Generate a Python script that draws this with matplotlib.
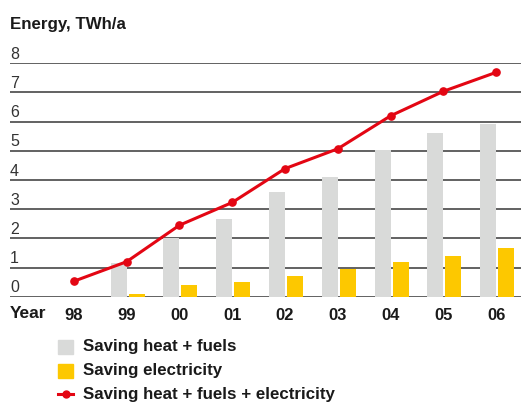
import matplotlib
matplotlib.use("Agg")
import matplotlib.pyplot as plt
import matplotlib.transforms as mtransforms
from matplotlib.patches import Rectangle
from matplotlib.lines import Line2D
import numpy as np

years = ["98", "99", "00", "01", "02", "03", "04", "05", "06"]
heat_fuels = [0.0, 1.16, 2.0, 2.67, 3.6, 4.11, 5.03, 5.62, 5.93]
electricity = [0.0, 0.09, 0.40, 0.50, 0.71, 0.96, 1.19, 1.40, 1.67]
total = [0.53, 1.20, 2.45, 3.23, 4.39, 5.07, 6.20, 7.04, 7.69]
yticks = [0, 1, 2, 3, 4, 5, 6, 7, 8]

title = "Energy, TWh/a"
xlabel = "Year"
legend_labels = ["Saving heat + fuels", "Saving electricity",
                 "Saving heat + fuels + electricity"]

GRAY = "#d9dad9"
YELLOW = "#fdc800"
RED = "#e30613"
TXT = "#1a1a1a"

plt.rcParams["font.family"] = ["Liberation Sans", "DejaVu Sans"]

W, H = 521, 403
fig = plt.figure(figsize=(W / 100, H / 100), dpi=100)
ax_left, ax_right = 10, 521
ax_top, ax_bot = 63.3, 296.7
ax = fig.add_axes([ax_left / W, (H - ax_bot) / H, (ax_right - ax_left) / W, (ax_bot - ax_top) / H])

x = np.arange(len(years))
bw = 0.303
ax.bar(x - 0.152, heat_fuels, width=bw, color=GRAY, zorder=3)
ax.bar(x + 0.19, electricity, width=bw, color=YELLOW, zorder=3)
ax.plot(x, total, color=RED, lw=2.2, marker="o", ms=5.2, zorder=4)

for yv in yticks:
    ax.axhline(yv, color="#555555", lw=1.3, zorder=1)

ax.set_xlim(-1.21, 8.47)
ax.set_ylim(0, 8)
for s in ax.spines.values():
    s.set_visible(False)
ax.set_yticks([])
ax.set_xticks(x)
ax.set_xticklabels(years, fontsize=12, color=TXT, fontweight="bold")
ax.tick_params(axis="x", length=0, pad=8)

trans = mtransforms.blended_transform_factory(ax.transAxes, ax.transData)
for yv in yticks:
    ax.text(0.0, yv + 0.05, str(yv), transform=trans, ha="left", va="bottom",
            fontsize=11.5, color="#333333")

ax.text(0.0, -0.57, xlabel, transform=trans, ha="left", va="center",
        fontsize=12.5, color=TXT, fontweight="bold")

fig.text(10 / W, 1 - 25 / H, title, ha="left", va="center", fontsize=12.2,
         fontweight="bold", color=TXT)

# legend
lx0, lx1 = 58, 73
rows = [347, 371, 394]
for i, c in enumerate([GRAY, YELLOW]):
    yc = rows[i]
    fig.patches.append(Rectangle((lx0 / W, 1 - (yc + 7) / H), (lx1 - lx0) / W, 14 / H,
                                 transform=fig.transFigure, color=c))
fig.lines.append(Line2D([lx0 / W, lx1 / W], [1 - rows[2] / H] * 2, transform=fig.transFigure,
                        color=RED, lw=2.2))
fig.lines.append(Line2D([(lx0 + lx1) / 2 / W], [1 - rows[2] / H], transform=fig.transFigure,
                        color=RED, marker="o", ms=5))
for i, lab in enumerate(legend_labels):
    fig.text(83 / W, 1 - rows[i] / H, lab, ha="left", va="center", fontsize=12.2,
             color=TXT, fontweight="bold")

fig.savefig("out.png", dpi=100)
